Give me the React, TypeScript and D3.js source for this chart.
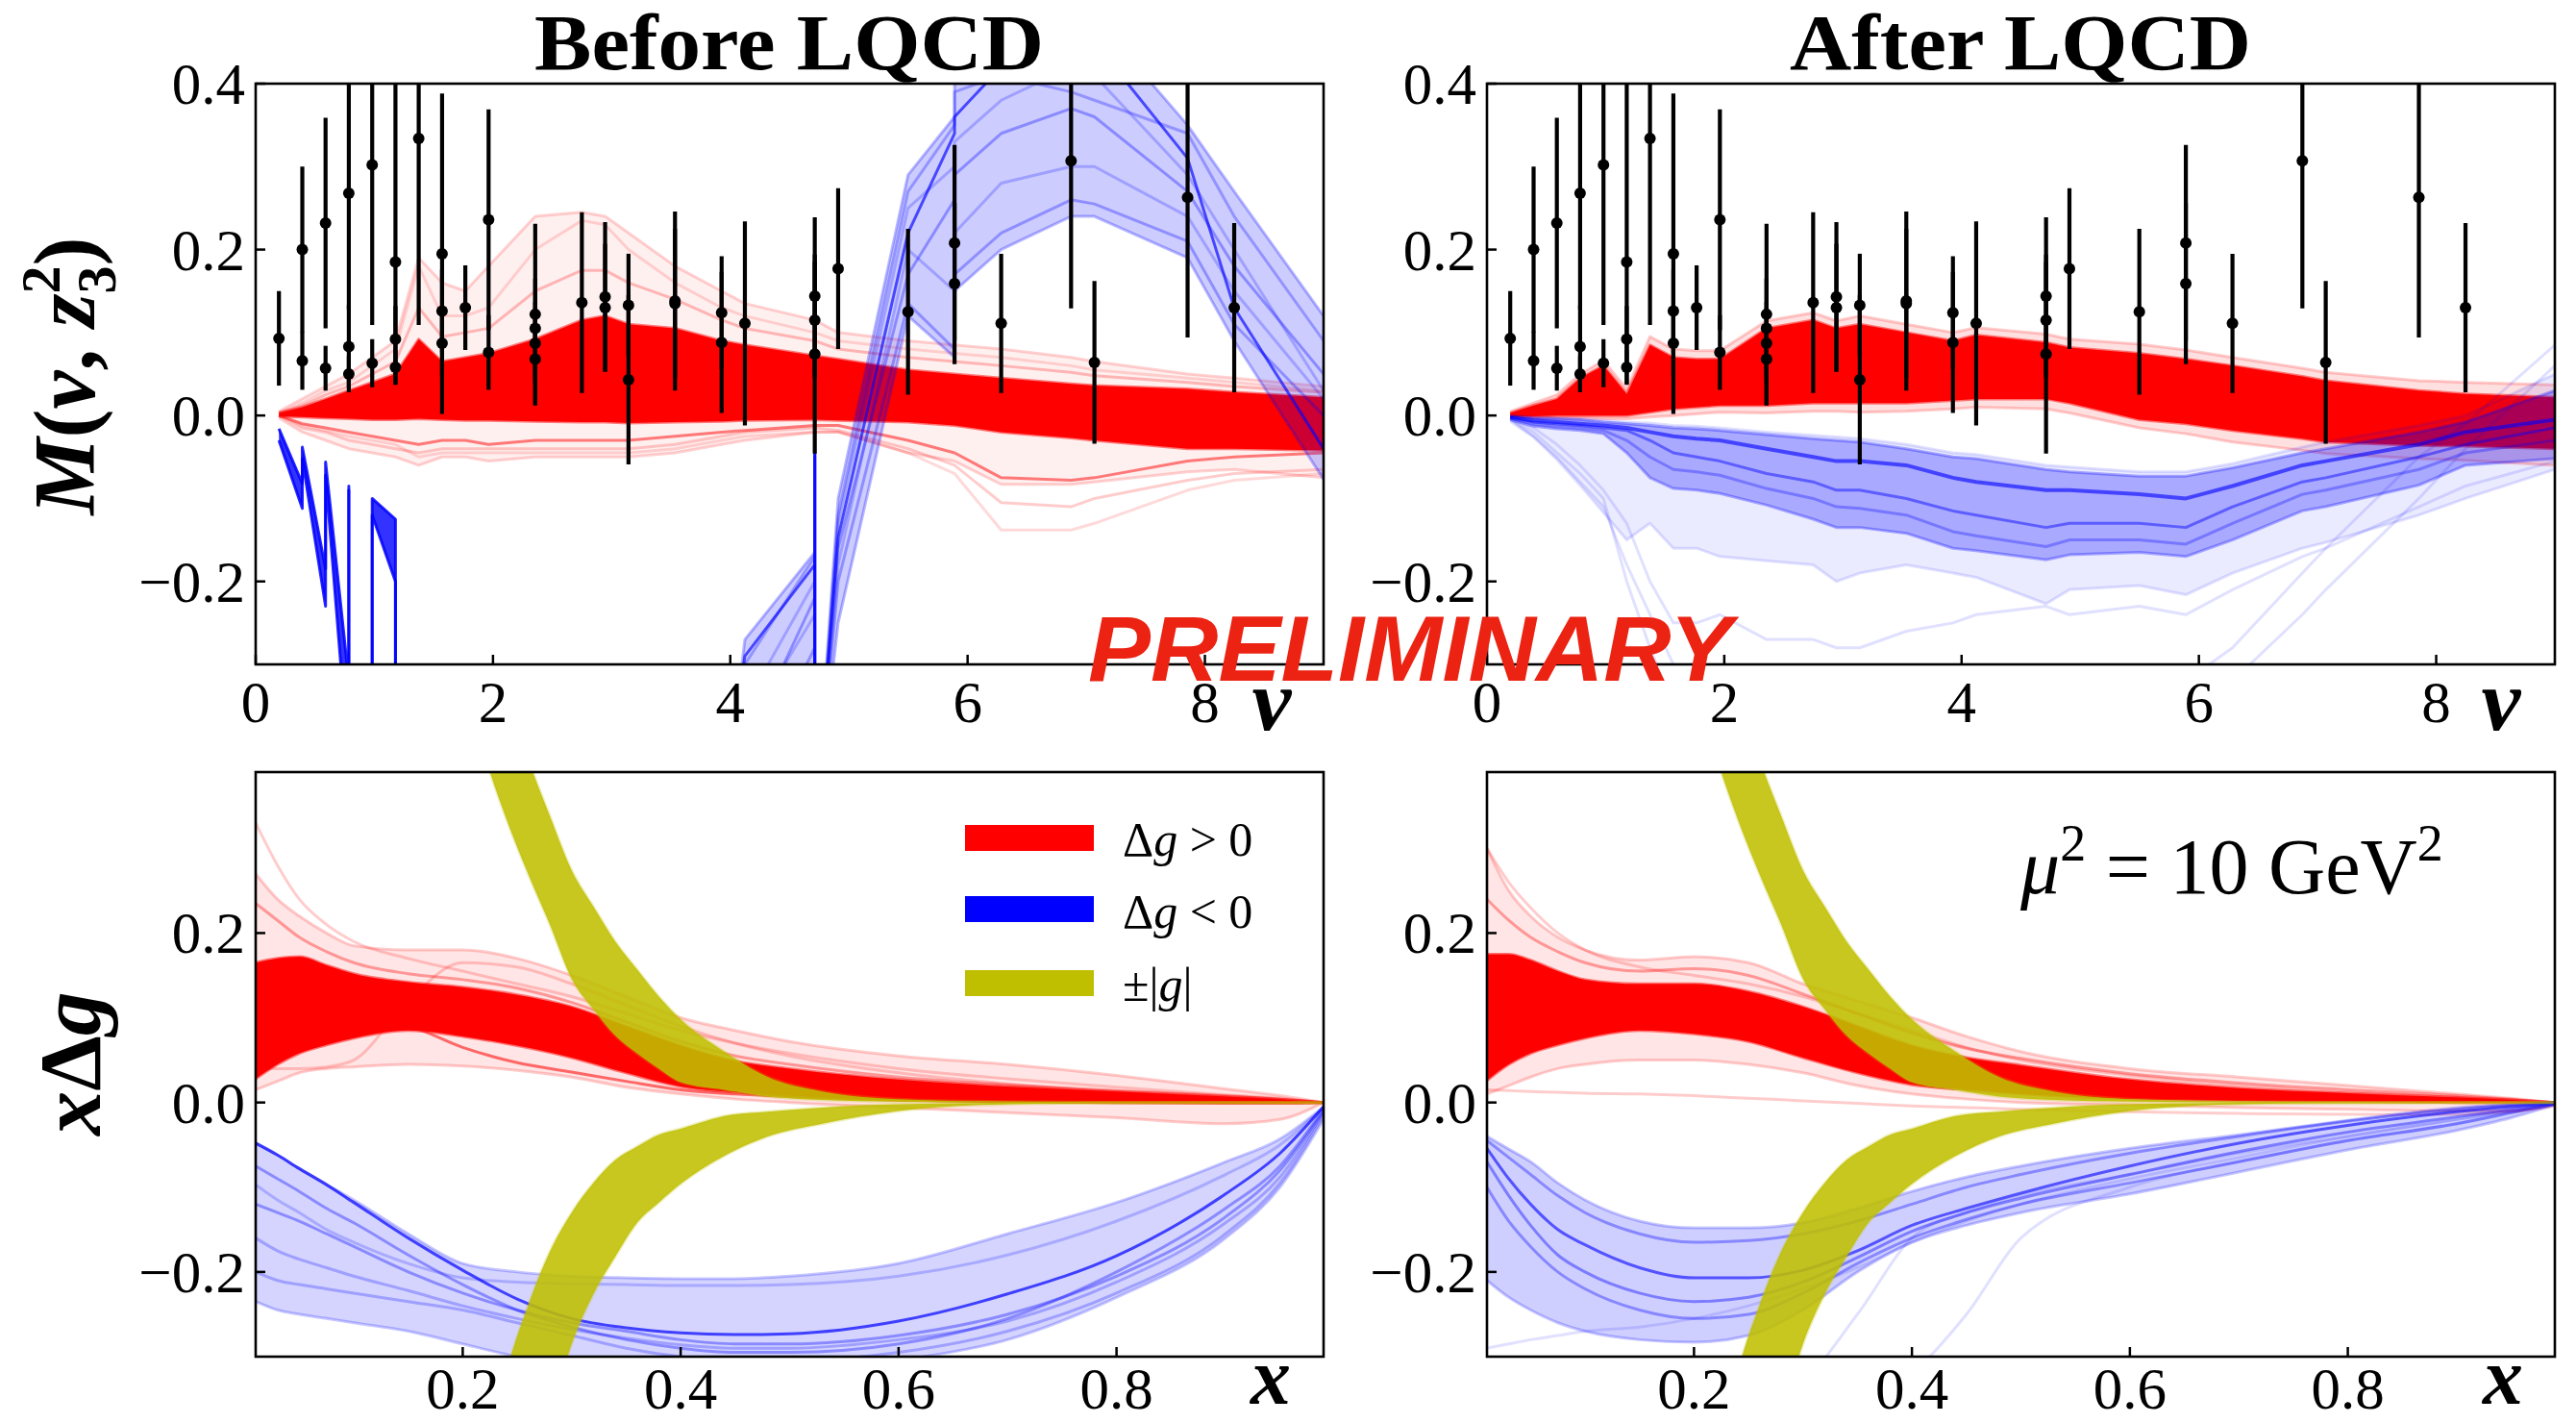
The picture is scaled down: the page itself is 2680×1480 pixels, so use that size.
import React from 'react';
import * as d3 from 'd3';

// ---------------- data: lattice points (same in both top panels) ----------------
const PT_NU = [0.196, 0.393, 0.393, 0.589, 0.589, 0.785, 0.785, 0.785, 0.982, 0.982, 1.178, 1.178, 1.178, 1.374, 1.571, 1.571, 1.571, 1.767, 1.963, 1.963, 2.356, 2.356, 2.356, 2.356, 2.749, 2.945, 2.945, 3.142, 3.142, 3.534, 3.534, 3.927, 3.927, 4.123, 4.712, 4.712, 4.712, 4.909, 5.498, 5.890, 5.890, 6.283, 6.872, 7.069, 7.854, 8.247];
const PT_M = [0.093, 0.200, 0.066, 0.232, 0.057, 0.268, 0.083, 0.050, 0.302, 0.063, 0.185, 0.092, 0.058, 0.334, 0.195, 0.126, 0.087, 0.130, 0.236, 0.076, 0.122, 0.105, 0.087, 0.068, 0.136, 0.143, 0.130, 0.133, 0.043, 0.138, 0.135, 0.124, 0.088, 0.111, 0.144, 0.115, 0.074, 0.177, 0.125, 0.208, 0.159, 0.111, 0.307, 0.064, 0.263, 0.130];
const PT_ERR_LO = [0.057, 0.100, 0.035, 0.127, 0.027, 0.140, 0.050, 0.022, 0.193, 0.029, 0.147, 0.040, 0.021, 0.225, 0.193, 0.050, 0.040, 0.051, 0.133, 0.045, 0.109, 0.060, 0.050, 0.056, 0.109, 0.090, 0.077, 0.062, 0.102, 0.108, 0.090, 0.068, 0.085, 0.123, 0.095, 0.070, 0.120, 0.097, 0.100, 0.118, 0.097, 0.084, 0.178, 0.098, 0.169, 0.102];
const PT_ERR_HI = [0.057, 0.100, 0.035, 0.127, 0.027, 0.140, 0.050, 0.022, 0.193, 0.029, 0.230, 0.040, 0.021, 0.225, 0.193, 0.050, 0.040, 0.051, 0.133, 0.045, 0.109, 0.060, 0.050, 0.056, 0.109, 0.090, 0.077, 0.062, 0.102, 0.108, 0.090, 0.068, 0.085, 0.123, 0.095, 0.070, 0.120, 0.097, 0.100, 0.118, 0.097, 0.084, 0.178, 0.098, 0.169, 0.102];

// ---------------- top panels: nu nodes ----------------
const NU = [0.196, 0.393, 0.589, 0.785, 0.982, 1.178, 1.374, 1.571, 1.767, 1.963, 2.356, 2.749, 2.945, 3.142, 3.534, 3.927, 4.123, 4.712, 4.909, 5.498, 5.890, 6.283, 6.872, 7.069, 7.854, 8.247, 9.0];

// red, before LQCD
const RB_CORE_HI = [0.003, 0.010, 0.020, 0.030, 0.040, 0.050, 0.092, 0.065, 0.070, 0.075, 0.092, 0.115, 0.120, 0.110, 0.105, 0.090, 0.085, 0.072, 0.068, 0.055, 0.050, 0.045, 0.038, 0.036, 0.032, 0.028, 0.022];
const RB_CORE_LO = [-0.001, -0.002, -0.003, -0.004, -0.005, -0.005, -0.004, -0.005, -0.006, -0.006, -0.007, -0.008, -0.008, -0.009, -0.008, -0.007, -0.006, -0.005, -0.006, -0.008, -0.012, -0.020, -0.027, -0.030, -0.040, -0.040, -0.042];
const RB_FR_HI = [0.005, 0.020, 0.035, 0.050, 0.070, 0.090, 0.190, 0.160, 0.150, 0.180, 0.240, 0.245, 0.240, 0.220, 0.180, 0.150, 0.135, 0.115, 0.100, 0.090, 0.085, 0.080, 0.070, 0.065, 0.050, 0.045, 0.035];
const RB_FR_LO = [-0.003, -0.020, -0.030, -0.040, -0.045, -0.050, -0.060, -0.050, -0.050, -0.055, -0.050, -0.050, -0.050, -0.050, -0.045, -0.035, -0.030, -0.020, -0.020, -0.045, -0.055, -0.083, -0.083, -0.080, -0.068, -0.065, -0.075];
const RB_OUT1 = [0, -0.010, -0.015, -0.020, -0.025, -0.030, -0.035, -0.030, -0.030, -0.035, -0.030, -0.030, -0.030, -0.030, -0.025, -0.020, -0.018, -0.012, -0.012, -0.030, -0.045, -0.075, -0.078, -0.075, -0.055, -0.050, -0.045];
const RB_OUT2 = [0, -0.015, -0.020, -0.030, -0.035, -0.040, -0.045, -0.040, -0.040, -0.040, -0.040, -0.040, -0.040, -0.040, -0.035, -0.025, -0.020, -0.015, -0.018, -0.040, -0.060, -0.105, -0.110, -0.100, -0.078, -0.070, -0.065];
const RB_OUT3 = [0, -0.012, -0.018, -0.025, -0.030, -0.035, -0.050, -0.045, -0.045, -0.045, -0.045, -0.045, -0.045, -0.045, -0.040, -0.030, -0.025, -0.020, -0.020, -0.045, -0.070, -0.138, -0.138, -0.130, -0.090, -0.078, -0.070];
const RB_OUT4 = [0.003, 0.015, 0.030, 0.040, 0.060, 0.080, 0.180, 0.120, 0.120, 0.130, 0.200, 0.235, 0.230, 0.200, 0.160, 0.130, 0.120, 0.100, 0.090, 0.080, 0.075, 0.070, 0.060, 0.055, 0.045, 0.040, 0.030];
const RB_OUT5 = [0.003, 0.012, 0.025, 0.035, 0.050, 0.065, 0.130, 0.095, 0.100, 0.105, 0.150, 0.175, 0.175, 0.160, 0.140, 0.115, 0.105, 0.090, 0.080, 0.070, 0.065, 0.060, 0.052, 0.048, 0.040, 0.035, 0.028];

// blue, before LQCD (nodes with repeated nu)
const BB_LEFT_NU = [0.196, 0.393, 0.393, 0.589, 0.589, 0.785, 0.785, 0.785, 0.982, 0.982, 1.178, 1.178];
const BB_LEFT_HI = [-0.016, -0.082, -0.038, -0.185, -0.056, -0.320, -0.085, -0.500, -0.500, -0.100, -0.125, -0.500];
const BB_LEFT_LO = [-0.030, -0.112, -0.052, -0.230, -0.072, -0.420, -0.090, -0.500, -0.500, -0.120, -0.200, -0.500];
const BB_RIGHT_NU = [3.927, 4.123, 4.712, 4.712, 4.712, 4.909, 5.498, 5.890, 5.890, 6.283, 6.872, 7.069, 7.854, 8.247, 9.0];
const BB_RIGHT_HI = [-0.50, -0.27, -0.165, -0.044, -0.50, -0.10, 0.29, 0.36, 0.40, 0.50, 0.50, 0.48, 0.35, 0.27, 0.12];
const BB_RIGHT_LO = [-0.50, -0.50, -0.50, -0.050, -0.50, -0.25, 0.12, 0.07, 0.15, 0.20, 0.24, 0.24, 0.19, 0.09, -0.077];
const BB_S1 = [-0.50, -0.29, -0.18, -0.045, -0.50, -0.147, 0.22, 0.34, 0.36, 0.42, 0.46, 0.45, 0.31, 0.13, -0.04];
const BB_S2 = [-0.50, -0.40, -0.22, -0.046, -0.50, -0.16, 0.17, 0.26, 0.29, 0.34, 0.37, 0.36, 0.27, 0.18, 0.05];
const BB_S3 = [-0.50, -0.45, -0.28, -0.047, -0.50, -0.20, 0.135, 0.08, 0.17, 0.22, 0.26, 0.255, 0.21, 0.11, 0.0];
const BB_S4 = [-0.50, -0.30, -0.17, -0.044, -0.50, -0.12, 0.27, 0.35, 0.39, 0.41, 0.39, 0.38, 0.34, 0.24, 0.09];
const BB_S5 = [-0.50, -0.35, -0.20, -0.045, -0.50, -0.13, 0.25, 0.30, 0.33, 0.38, 0.42, 0.41, 0.29, 0.20, 0.03];
const BB_S6 = [-0.50, -0.38, -0.24, -0.046, -0.50, -0.18, 0.20, 0.15, 0.22, 0.28, 0.30, 0.30, 0.24, 0.15, 0.02];

// red, after LQCD
const RA_CORE_HI = [0.003, 0.012, 0.020, 0.045, 0.060, 0.026, 0.085, 0.070, 0.068, 0.068, 0.105, 0.115, 0.105, 0.110, 0.100, 0.090, 0.097, 0.088, 0.082, 0.075, 0.068, 0.060, 0.047, 0.042, 0.030, 0.026, 0.022];
const RA_CORE_LO = [-0.001, -0.001, 0.0, 0.0, 0.0, 0.0, 0.004, 0.008, 0.010, 0.012, 0.012, 0.015, 0.015, 0.015, 0.015, 0.018, 0.020, 0.020, 0.015, -0.005, -0.010, -0.018, -0.028, -0.032, -0.036, -0.037, -0.040];
const RA_FR_HI = [0.005, 0.015, 0.025, 0.050, 0.066, 0.032, 0.095, 0.080, 0.078, 0.078, 0.114, 0.124, 0.114, 0.120, 0.110, 0.100, 0.106, 0.098, 0.092, 0.086, 0.079, 0.070, 0.057, 0.052, 0.042, 0.040, 0.037];
const RA_FR_LO = [-0.002, -0.003, -0.003, -0.003, -0.004, -0.004, -0.002, 0.0, 0.002, 0.004, 0.003, 0.005, 0.005, 0.004, 0.005, 0.008, 0.010, 0.008, 0.003, -0.015, -0.022, -0.032, -0.042, -0.046, -0.052, -0.054, -0.060];

// blue, after LQCD
const BA_CORE_HI = [-0.001, -0.003, -0.004, -0.005, -0.008, -0.010, -0.012, -0.015, -0.016, -0.018, -0.023, -0.028, -0.030, -0.032, -0.040, -0.050, -0.052, -0.065, -0.068, -0.073, -0.073, -0.063, -0.045, -0.040, -0.020, -0.008, 0.030];
const BA_CORE_LO = [-0.005, -0.013, -0.016, -0.018, -0.022, -0.045, -0.075, -0.088, -0.090, -0.094, -0.108, -0.125, -0.135, -0.135, -0.142, -0.160, -0.163, -0.174, -0.168, -0.165, -0.170, -0.150, -0.115, -0.110, -0.084, -0.060, -0.052];
const BA_FR_HI = [0.0, -0.002, -0.003, -0.004, -0.006, -0.008, -0.009, -0.012, -0.013, -0.015, -0.020, -0.024, -0.026, -0.028, -0.035, -0.045, -0.047, -0.060, -0.062, -0.068, -0.068, -0.058, -0.038, -0.032, -0.012, 0.0, 0.050];
const BA_FR_LO = [-0.007, -0.026, -0.053, -0.084, -0.117, -0.150, -0.130, -0.160, -0.160, -0.170, -0.175, -0.180, -0.200, -0.190, -0.180, -0.190, -0.195, -0.227, -0.210, -0.205, -0.216, -0.190, -0.160, -0.153, -0.120, -0.100, -0.065];
const BA_S1 = [-0.002, -0.008, -0.010, -0.012, -0.015, -0.018, -0.030, -0.045, -0.050, -0.055, -0.070, -0.080, -0.090, -0.090, -0.100, -0.115, -0.120, -0.135, -0.130, -0.130, -0.135, -0.110, -0.080, -0.075, -0.050, -0.035, -0.015];
const BA_S2 = [-0.002, -0.006, -0.008, -0.010, -0.012, -0.015, -0.020, -0.025, -0.028, -0.030, -0.040, -0.050, -0.055, -0.055, -0.060, -0.075, -0.080, -0.090, -0.090, -0.095, -0.100, -0.085, -0.060, -0.055, -0.035, -0.020, -0.005];
const BA_S3 = [-0.003, -0.010, -0.013, -0.015, -0.018, -0.030, -0.050, -0.065, -0.068, -0.072, -0.088, -0.100, -0.110, -0.112, -0.120, -0.140, -0.145, -0.158, -0.150, -0.150, -0.155, -0.130, -0.095, -0.090, -0.065, -0.045, -0.030];
const BA_OUT1 = [-0.003, -0.015, -0.035, -0.060, -0.090, -0.130, -0.200, -0.250, -0.250, -0.240, -0.270, -0.270, -0.280, -0.280, -0.260, -0.250, -0.240, -0.230, -0.240, -0.230, -0.240, -0.210, -0.170, -0.160, -0.110, -0.085, -0.055];
const BA_OUT2 = [-0.004, -0.020, -0.045, -0.070, -0.100, -0.200, -0.280, -0.350, -0.360, -0.380, -0.400, -0.400, -0.400, -0.400, -0.400, -0.400, -0.400, -0.400, -0.380, -0.350, -0.320, -0.280, -0.190, -0.160, -0.050, -0.010, 0.085];
const BA_OUT3 = [-0.004, -0.025, -0.050, -0.080, -0.110, -0.180, -0.240, -0.300, -0.320, -0.330, -0.350, -0.380, -0.400, -0.400, -0.400, -0.400, -0.400, -0.360, -0.340, -0.330, -0.330, -0.320, -0.240, -0.210, -0.100, -0.040, 0.060];

// ---------------- bottom panels: x nodes ----------------
const XN = [0.01, 0.03, 0.05, 0.075, 0.1, 0.15, 0.2, 0.25, 0.3, 0.35, 0.4, 0.45, 0.5, 0.6, 0.7, 0.8, 0.9, 0.95, 0.99];

const RBX_CORE_HI = [0.165, 0.170, 0.172, 0.162, 0.152, 0.142, 0.136, 0.127, 0.113, 0.090, 0.067, 0.049, 0.040, 0.027, 0.019, 0.013, 0.007, 0.004, 0.0];
const RBX_CORE_LO = [0.028, 0.045, 0.058, 0.068, 0.076, 0.085, 0.078, 0.067, 0.053, 0.035, 0.019, 0.012, 0.008, 0.003, 0.001, 0.0, -0.001, -0.001, 0.0];
const RBX_FR_HI = [0.270, 0.240, 0.220, 0.200, 0.185, 0.180, 0.180, 0.170, 0.150, 0.125, 0.100, 0.085, 0.072, 0.055, 0.045, 0.032, 0.016, 0.008, 0.0];
const RBX_FR_LO = [0.015, 0.025, 0.035, 0.040, 0.042, 0.045, 0.043, 0.038, 0.030, 0.018, 0.010, 0.004, 0.0, -0.006, -0.012, -0.018, -0.025, -0.020, 0.0];
const RBX_OUT1 = [0.330, 0.280, 0.240, 0.210, 0.190, 0.170, 0.155, 0.140, 0.125, 0.105, 0.085, 0.070, 0.058, 0.040, 0.028, 0.018, 0.009, 0.005, 0.0];
const RBX_OUT2 = [0.050, 0.065, 0.080, 0.090, 0.097, 0.090, 0.065, 0.047, 0.036, 0.025, 0.015, 0.010, 0.007, 0.003, 0.001, 0.0, 0.0, 0.0, 0.0];
const RBX_OUT3 = [0.040, 0.040, 0.040, 0.042, 0.050, 0.120, 0.165, 0.160, 0.140, 0.115, 0.090, 0.070, 0.055, 0.035, 0.022, 0.012, 0.006, 0.003, 0.0];
const RBX_OUT4 = [0.235, 0.215, 0.195, 0.178, 0.165, 0.152, 0.145, 0.135, 0.118, 0.095, 0.072, 0.055, 0.045, 0.030, 0.021, 0.014, 0.008, 0.004, 0.0];

const BBX_HI = [-0.048, -0.062, -0.078, -0.097, -0.115, -0.155, -0.190, -0.200, -0.205, -0.207, -0.208, -0.208, -0.205, -0.190, -0.155, -0.118, -0.070, -0.043, -0.005];
const BBX_LO = [-0.235, -0.245, -0.250, -0.255, -0.260, -0.270, -0.285, -0.300, -0.310, -0.320, -0.330, -0.330, -0.325, -0.305, -0.280, -0.230, -0.160, -0.100, -0.020];
const BBX_S1 = [-0.048, -0.062, -0.078, -0.097, -0.118, -0.160, -0.198, -0.232, -0.255, -0.266, -0.272, -0.274, -0.273, -0.258, -0.226, -0.181, -0.108, -0.060, -0.005];
const BBX_S2 = [-0.120, -0.130, -0.140, -0.155, -0.170, -0.200, -0.225, -0.245, -0.260, -0.270, -0.280, -0.285, -0.285, -0.275, -0.250, -0.205, -0.135, -0.080, -0.010];
const BBX_S3 = [-0.200, -0.210, -0.215, -0.220, -0.225, -0.235, -0.245, -0.260, -0.275, -0.290, -0.300, -0.305, -0.305, -0.295, -0.270, -0.225, -0.155, -0.095, -0.015];
const BBX_S4 = [-0.097, -0.115, -0.130, -0.150, -0.165, -0.190, -0.207, -0.212, -0.214, -0.215, -0.216, -0.216, -0.215, -0.205, -0.180, -0.140, -0.085, -0.050, -0.006];
const BBX_S5 = [-0.075, -0.090, -0.105, -0.125, -0.142, -0.180, -0.215, -0.245, -0.265, -0.280, -0.290, -0.295, -0.295, -0.285, -0.255, -0.200, -0.125, -0.075, -0.008];
const BBX_S6 = [-0.160, -0.175, -0.185, -0.195, -0.205, -0.222, -0.240, -0.255, -0.268, -0.278, -0.286, -0.290, -0.290, -0.280, -0.258, -0.212, -0.142, -0.088, -0.012];

const RAX_CORE_HI = [0.175, 0.175, 0.168, 0.155, 0.145, 0.140, 0.140, 0.131, 0.113, 0.090, 0.067, 0.053, 0.044, 0.027, 0.017, 0.011, 0.006, 0.003, 0.0];
const RAX_CORE_LO = [0.026, 0.045, 0.058, 0.068, 0.076, 0.085, 0.081, 0.072, 0.053, 0.035, 0.021, 0.015, 0.010, 0.004, 0.002, 0.001, 0.0, 0.0, 0.0];
const RAX_FR_HI = [0.300, 0.250, 0.220, 0.195, 0.180, 0.168, 0.172, 0.165, 0.140, 0.120, 0.100, 0.078, 0.060, 0.040, 0.030, 0.020, 0.010, 0.005, 0.0];
const RAX_FR_LO = [0.010, 0.020, 0.030, 0.040, 0.045, 0.050, 0.050, 0.045, 0.035, 0.020, 0.010, 0.004, 0.0, -0.003, -0.006, -0.008, -0.010, -0.010, -0.002];
const RAX_OUT1 = [0.015, 0.014, 0.013, 0.012, 0.011, 0.010, 0.008, 0.005, 0.002, -0.001, -0.004, -0.006, -0.008, -0.011, -0.013, -0.014, -0.014, -0.011, -0.004];
const RAX_OUT2 = [0.300, 0.260, 0.230, 0.200, 0.180, 0.160, 0.150, 0.140, 0.125, 0.105, 0.085, 0.065, 0.050, 0.032, 0.020, 0.012, 0.006, 0.003, 0.0];
const RAX_OUT3 = [0.240, 0.215, 0.195, 0.178, 0.165, 0.155, 0.158, 0.150, 0.128, 0.105, 0.082, 0.064, 0.052, 0.034, 0.023, 0.015, 0.008, 0.004, 0.0];

const BAX_HI = [-0.040, -0.055, -0.070, -0.095, -0.115, -0.140, -0.148, -0.148, -0.142, -0.125, -0.105, -0.088, -0.075, -0.054, -0.038, -0.021, -0.006, -0.002, 0.0];
const BAX_LO = [-0.210, -0.230, -0.245, -0.260, -0.270, -0.280, -0.283, -0.275, -0.245, -0.200, -0.165, -0.145, -0.130, -0.108, -0.082, -0.056, -0.033, -0.018, -0.003];
const BAX_SA = [-0.054, -0.090, -0.120, -0.150, -0.168, -0.195, -0.207, -0.207, -0.198, -0.175, -0.145, -0.125, -0.107, -0.075, -0.048, -0.027, -0.011, -0.005, -0.001];
const BAX_SB = [-0.045, -0.065, -0.085, -0.110, -0.130, -0.155, -0.165, -0.163, -0.155, -0.140, -0.120, -0.100, -0.085, -0.060, -0.040, -0.022, -0.008, -0.003, 0.0];
const BAX_SC = [-0.100, -0.140, -0.170, -0.200, -0.220, -0.245, -0.255, -0.250, -0.225, -0.190, -0.160, -0.138, -0.120, -0.095, -0.070, -0.045, -0.025, -0.012, -0.002];
const BAX_SD = [-0.070, -0.110, -0.145, -0.180, -0.200, -0.225, -0.235, -0.230, -0.212, -0.183, -0.152, -0.130, -0.113, -0.085, -0.058, -0.035, -0.017, -0.008, -0.001];
const BAX_O1 = [-0.300, -0.310, -0.320, -0.330, -0.340, -0.360, -0.370, -0.360, -0.330, -0.250, -0.160, -0.130, -0.110, -0.085, -0.060, -0.040, -0.020, -0.010, -0.002];
const BAX_O2 = [-0.360, -0.380, -0.400, -0.420, -0.440, -0.460, -0.450, -0.430, -0.400, -0.360, -0.320, -0.250, -0.160, -0.100, -0.070, -0.045, -0.025, -0.012, -0.002];
const BAX_O3 = [-0.290, -0.285, -0.280, -0.275, -0.270, -0.265, -0.255, -0.240, -0.220, -0.195, -0.165, -0.140, -0.120, -0.090, -0.065, -0.040, -0.020, -0.010, -0.002];

// +-|g| bands (same in both bottom panels)
const OLIVE_X = [0.20, 0.22, 0.24, 0.26, 0.28, 0.30, 0.32, 0.34, 0.36, 0.38, 0.40, 0.44, 0.48, 0.53, 0.60, 0.70, 0.80, 0.99];
const G_UP_LO = [0.50, 0.41, 0.335, 0.27, 0.21, 0.146, 0.11, 0.079, 0.058, 0.040, 0.024, 0.015, 0.007, 0.003, 0.001, 0.0002, 0.0, 0.0];
const G_UP_HI = [0.75, 0.60, 0.48, 0.405, 0.338, 0.274, 0.231, 0.190, 0.157, 0.125, 0.098, 0.060, 0.030, 0.013, 0.004, 0.001, 0.0002, 0.0];
const G_DN_HI = [-0.70, -0.45, -0.32, -0.24, -0.176, -0.13, -0.095, -0.068, -0.052, -0.038, -0.031, -0.016, -0.011, -0.006, -0.002, -0.0005, 0.0, 0.0];
const G_DN_LO = [-0.90, -0.70, -0.55, -0.45, -0.37, -0.285, -0.226, -0.182, -0.142, -0.118, -0.096, -0.063, -0.040, -0.025, -0.010, -0.002, -0.0005, 0.0];

const TOP_X_TICKS = [0, 2, 4, 6, 8];
const TOP_Y_TICKS = [-0.2, 0.0, 0.2, 0.4];
const BOT_X_TICKS = [0.2, 0.4, 0.6, 0.8];
const BOT_Y_TICKS = [-0.2, 0.0, 0.2];

// ---------------- layout ----------------
const W = 2680, H = 1480;
const LX = [266, 1377], RX = [1547, 2658];
const TY = [87, 691], BY = [803, 1411];
const RED = '#ff0000', BLUE = '#0000ff', OLIVE = '#bfbf00';
const SERIF = "'Liberation Serif', 'DejaVu Serif', serif";

const yTop = d3.scaleLinear().domain([-0.3, 0.4]).range([TY[1], TY[0]]);
const yBot = d3.scaleLinear().domain([-0.3, 0.39]).range([BY[1], BY[0]]);
const xNuL = d3.scaleLinear().domain([0, 9]).range(LX);
const xNuR = d3.scaleLinear().domain([0, 9]).range(RX);
const xXL = d3.scaleLinear().domain([0.01, 0.99]).range(LX);
const xXR = d3.scaleLinear().domain([0.01, 0.99]).range(RX);

const fmt1 = d3.format('.1f');
const fmt0 = d3.format('d');

function Band({ xs, ys, xv, lo, hi, color, fill, stroke, curve, sw = 3 }: any) {
  const area = d3.area<number>().x((_, i) => xs(xv[i])).y0((_, i) => ys(lo[i])).y1((_, i) => ys(hi[i])).curve(curve)(xv) as string;
  const line = d3.line<number>().x((_, i) => xs(xv[i])).y((d) => ys(d)).curve(curve);
  return (
    <g>
      <path d={area} fill={color} fillOpacity={fill} stroke="none" />
      {stroke > 0 && <path d={line(lo) as string} fill="none" stroke={color} strokeOpacity={stroke} strokeWidth={sw} strokeLinejoin="round" />}
      {stroke > 0 && <path d={line(hi) as string} fill="none" stroke={color} strokeOpacity={stroke} strokeWidth={sw} strokeLinejoin="round" />}
    </g>
  );
}

function Curve({ xs, ys, xv, v, color, op, curve, sw = 3 }: any) {
  const line = d3.line<number>().x((_, i) => xs(xv[i])).y((d) => ys(d)).curve(curve);
  return <path d={line(v) as string} fill="none" stroke={color} strokeOpacity={op} strokeWidth={sw} strokeLinejoin="round" />;
}

function Points({ xs, ys }: any) {
  return (
    <g>
      {PT_NU.map((n, i) => (
        <g key={i}>
          <line x1={xs(n)} x2={xs(n)} y1={ys(PT_M[i] - PT_ERR_LO[i])} y2={ys(PT_M[i] + PT_ERR_HI[i])} stroke="#000" strokeWidth={4.2} />
          <circle cx={xs(n)} cy={ys(PT_M[i])} r={6} fill="#000" />
        </g>
      ))}
    </g>
  );
}

function Axes({ xs, ys, xr, yr, xTicks, yTicks, xFmt, xLabY }: any) {
  return (
    <g>
      {yTicks.map((t: number) => (
        <g key={'y' + t}>
          <line x1={xr[0]} x2={xr[0] + 10} y1={ys(t)} y2={ys(t)} stroke="#000" strokeWidth={2.5} />
          <text x={xr[0] - 11} y={ys(t) + 21} textAnchor="end" fontSize={61} fontFamily={SERIF}>{fmt1(t)}</text>
        </g>
      ))}
      {xTicks.map((t: number) => (
        <g key={'x' + t}>
          <line x1={xs(t)} x2={xs(t)} y1={yr[1]} y2={yr[1] - 10} stroke="#000" strokeWidth={2.5} />
          <text x={xs(t)} y={xLabY} textAnchor="middle" fontSize={61} fontFamily={SERIF}>{xFmt(t)}</text>
        </g>
      ))}
      <rect x={xr[0]} y={yr[0]} width={xr[1] - xr[0]} height={yr[1] - yr[0]} fill="none" stroke="#000" strokeWidth={2.6} />
    </g>
  );
}

function ClipRect({ id, xr, yr }: any) {
  return (
    <clipPath id={id}>
      <rect x={xr[0]} y={yr[0]} width={xr[1] - xr[0]} height={yr[1] - yr[0]} />
    </clipPath>
  );
}

function Olive({ xs }: any) {
  const c = d3.curveMonotoneX;
  return (
    <g>
      <Band xs={xs} ys={yBot} xv={OLIVE_X} lo={G_UP_LO} hi={G_UP_HI} color={OLIVE} fill={0.88} stroke={0.25} curve={c} />
      <Band xs={xs} ys={yBot} xv={OLIVE_X} lo={G_DN_LO} hi={G_DN_HI} color={OLIVE} fill={0.88} stroke={0.25} curve={c} />
    </g>
  );
}

export default function App() {
  const lin = d3.curveLinear;
  const mono = d3.curveMonotoneX;
  return (
    <svg width={W} height={H} viewBox={`0 0 ${W} ${H}`} style={{ position: 'absolute', left: 0, top: 0, background: '#fff' }}>
      <defs>
        <ClipRect id="cTL" xr={LX} yr={TY} />
        <ClipRect id="cTR" xr={RX} yr={TY} />
        <ClipRect id="cBL" xr={LX} yr={BY} />
        <ClipRect id="cBR" xr={RX} yr={BY} />
      </defs>
      <rect x={0} y={0} width={W} height={H} fill="#fff" />

      {/* ---------- top-left: before LQCD ---------- */}
      <g clipPath="url(#cTL)">
        <Band xs={xNuL} ys={yTop} xv={NU} lo={RB_FR_LO} hi={RB_FR_HI} color={RED} fill={0.06} stroke={0.18} curve={lin} />
        <Curve xs={xNuL} ys={yTop} xv={NU} v={RB_OUT4} color={RED} op={0.15} curve={lin} />
        <Curve xs={xNuL} ys={yTop} xv={NU} v={RB_OUT5} color={RED} op={0.25} curve={lin} />
        <Curve xs={xNuL} ys={yTop} xv={NU} v={RB_OUT3} color={RED} op={0.15} curve={lin} />
        <Curve xs={xNuL} ys={yTop} xv={NU} v={RB_OUT2} color={RED} op={0.2} curve={lin} />
        <Curve xs={xNuL} ys={yTop} xv={NU} v={RB_OUT1} color={RED} op={0.5} curve={lin} />
        <Band xs={xNuL} ys={yTop} xv={NU} lo={RB_CORE_LO} hi={RB_CORE_HI} color={RED} fill={1} stroke={0.5} curve={lin} />
        <Band xs={xNuL} ys={yTop} xv={BB_LEFT_NU} lo={BB_LEFT_LO} hi={BB_LEFT_HI} color={BLUE} fill={0.8} stroke={0.85} curve={lin} />
        <Band xs={xNuL} ys={yTop} xv={BB_RIGHT_NU} lo={BB_RIGHT_LO} hi={BB_RIGHT_HI} color={BLUE} fill={0.2} stroke={0.28} curve={lin} />
        <Curve xs={xNuL} ys={yTop} xv={BB_RIGHT_NU} v={BB_S6} color={BLUE} op={0.22} curve={lin} />
        <Curve xs={xNuL} ys={yTop} xv={BB_RIGHT_NU} v={BB_S5} color={BLUE} op={0.22} curve={lin} />
        <Curve xs={xNuL} ys={yTop} xv={BB_RIGHT_NU} v={BB_S4} color={BLUE} op={0.28} curve={lin} />
        <Curve xs={xNuL} ys={yTop} xv={BB_RIGHT_NU} v={BB_S3} color={BLUE} op={0.3} curve={lin} />
        <Curve xs={xNuL} ys={yTop} xv={BB_RIGHT_NU} v={BB_S2} color={BLUE} op={0.32} curve={lin} />
        <Curve xs={xNuL} ys={yTop} xv={BB_RIGHT_NU} v={BB_S1} color={BLUE} op={0.65} curve={lin} />
        <Points xs={xNuL} ys={yTop} />
      </g>

      {/* ---------- top-right: after LQCD ---------- */}
      <g clipPath="url(#cTR)">
        <Band xs={xNuR} ys={yTop} xv={NU} lo={RA_FR_LO} hi={RA_FR_HI} color={RED} fill={0.12} stroke={0.2} curve={lin} />
        <Band xs={xNuR} ys={yTop} xv={NU} lo={RA_CORE_LO} hi={RA_CORE_HI} color={RED} fill={1} stroke={0.5} curve={lin} />
        <Band xs={xNuR} ys={yTop} xv={NU} lo={BA_FR_LO} hi={BA_FR_HI} color={BLUE} fill={0.08} stroke={0.12} curve={lin} />
        <Band xs={xNuR} ys={yTop} xv={NU} lo={BA_CORE_LO} hi={BA_CORE_HI} color={BLUE} fill={0.28} stroke={0.3} curve={lin} />
        <Curve xs={xNuR} ys={yTop} xv={NU} v={BA_OUT1} color={BLUE} op={0.12} curve={lin} />
        <Curve xs={xNuR} ys={yTop} xv={NU} v={BA_OUT2} color={BLUE} op={0.12} curve={lin} />
        <Curve xs={xNuR} ys={yTop} xv={NU} v={BA_OUT3} color={BLUE} op={0.12} curve={lin} />
        <Curve xs={xNuR} ys={yTop} xv={NU} v={BA_S3} color={BLUE} op={0.3} curve={lin} />
        <Curve xs={xNuR} ys={yTop} xv={NU} v={BA_S1} color={BLUE} op={0.45} curve={lin} />
        <Curve xs={xNuR} ys={yTop} xv={NU} v={BA_S2} color={BLUE} op={0.6} curve={lin} sw={4} />
        <Points xs={xNuR} ys={yTop} />
      </g>

      {/* ---------- bottom-left ---------- */}
      <g clipPath="url(#cBL)">
        <Band xs={xXL} ys={yBot} xv={XN} lo={RBX_FR_LO} hi={RBX_FR_HI} color={RED} fill={0.1} stroke={0.2} curve={mono} />
        <Curve xs={xXL} ys={yBot} xv={XN} v={RBX_OUT1} color={RED} op={0.2} curve={mono} />
        <Curve xs={xXL} ys={yBot} xv={XN} v={RBX_OUT3} color={RED} op={0.2} curve={mono} />
        <Curve xs={xXL} ys={yBot} xv={XN} v={RBX_OUT4} color={RED} op={0.35} curve={mono} />
        <Band xs={xXL} ys={yBot} xv={XN} lo={RBX_CORE_LO} hi={RBX_CORE_HI} color={RED} fill={1} stroke={0.5} curve={mono} />
        <Curve xs={xXL} ys={yBot} xv={XN} v={RBX_OUT2} color={RED} op={0.55} curve={mono} />
        <Band xs={xXL} ys={yBot} xv={XN} lo={BBX_LO} hi={BBX_HI} color={BLUE} fill={0.17} stroke={0.22} curve={mono} />
        <Curve xs={xXL} ys={yBot} xv={XN} v={BBX_S4} color={BLUE} op={0.2} curve={mono} />
        <Curve xs={xXL} ys={yBot} xv={XN} v={BBX_S3} color={BLUE} op={0.25} curve={mono} />
        <Curve xs={xXL} ys={yBot} xv={XN} v={BBX_S6} color={BLUE} op={0.25} curve={mono} />
        <Curve xs={xXL} ys={yBot} xv={XN} v={BBX_S2} color={BLUE} op={0.35} curve={mono} />
        <Curve xs={xXL} ys={yBot} xv={XN} v={BBX_S5} color={BLUE} op={0.35} curve={mono} />
        <Curve xs={xXL} ys={yBot} xv={XN} v={BBX_S1} color={BLUE} op={0.7} curve={mono} />
        <Olive xs={xXL} />
      </g>

      {/* ---------- bottom-right ---------- */}
      <g clipPath="url(#cBR)">
        <Band xs={xXR} ys={yBot} xv={XN} lo={RAX_FR_LO} hi={RAX_FR_HI} color={RED} fill={0.1} stroke={0.2} curve={mono} />
        <Curve xs={xXR} ys={yBot} xv={XN} v={RAX_OUT1} color={RED} op={0.2} curve={mono} />
        <Curve xs={xXR} ys={yBot} xv={XN} v={RAX_OUT2} color={RED} op={0.2} curve={mono} />
        <Curve xs={xXR} ys={yBot} xv={XN} v={RAX_OUT3} color={RED} op={0.35} curve={mono} />
        <Band xs={xXR} ys={yBot} xv={XN} lo={RAX_CORE_LO} hi={RAX_CORE_HI} color={RED} fill={1} stroke={0.5} curve={mono} />
        <Band xs={xXR} ys={yBot} xv={XN} lo={BAX_LO} hi={BAX_HI} color={BLUE} fill={0.19} stroke={0.22} curve={mono} />
        <Curve xs={xXR} ys={yBot} xv={XN} v={BAX_O1} color={BLUE} op={0.12} curve={mono} />
        <Curve xs={xXR} ys={yBot} xv={XN} v={BAX_O2} color={BLUE} op={0.12} curve={mono} />
        <Curve xs={xXR} ys={yBot} xv={XN} v={BAX_O3} color={BLUE} op={0.12} curve={mono} />
        <Curve xs={xXR} ys={yBot} xv={XN} v={BAX_SB} color={BLUE} op={0.35} curve={mono} />
        <Curve xs={xXR} ys={yBot} xv={XN} v={BAX_SC} color={BLUE} op={0.35} curve={mono} />
        <Curve xs={xXR} ys={yBot} xv={XN} v={BAX_SD} color={BLUE} op={0.4} curve={mono} />
        <Curve xs={xXR} ys={yBot} xv={XN} v={BAX_SA} color={BLUE} op={0.6} curve={mono} />
        <Olive xs={xXR} />
      </g>

      {/* ---------- axes ---------- */}
      <Axes xs={xNuL} ys={yTop} xr={LX} yr={TY} xTicks={TOP_X_TICKS} yTicks={TOP_Y_TICKS} xFmt={fmt0} xLabY={751} />
      <Axes xs={xNuR} ys={yTop} xr={RX} yr={TY} xTicks={TOP_X_TICKS} yTicks={TOP_Y_TICKS} xFmt={fmt0} xLabY={751} />
      <Axes xs={xXL} ys={yBot} xr={LX} yr={BY} xTicks={BOT_X_TICKS} yTicks={BOT_Y_TICKS} xFmt={fmt1} xLabY={1465} />
      <Axes xs={xXR} ys={yBot} xr={RX} yr={BY} xTicks={BOT_X_TICKS} yTicks={BOT_Y_TICKS} xFmt={fmt1} xLabY={1465} />

      {/* ---------- titles ---------- */}
      <text x={821} y={72} textAnchor="middle" fontSize={82} fontWeight="bold" fontFamily={SERIF} textLength={530} lengthAdjust="spacingAndGlyphs">Before LQCD</text>
      <text x={2102} y={72} textAnchor="middle" fontSize={82} fontWeight="bold" fontFamily={SERIF} textLength={480} lengthAdjust="spacingAndGlyphs">After LQCD</text>

      {/* ---------- axis labels ---------- */}
      <text x={1323} y={759} textAnchor="middle" fontSize={92} fontWeight="bold" fontStyle="italic" fontFamily={SERIF}>ν</text>
      <text x={2602} y={759} textAnchor="middle" fontSize={92} fontWeight="bold" fontStyle="italic" fontFamily={SERIF}>ν</text>
      <text x={1322} y={1460} textAnchor="middle" fontSize={84} fontWeight="bold" fontStyle="italic" fontFamily={SERIF}>x</text>
      <text x={2604} y={1460} textAnchor="middle" fontSize={84} fontWeight="bold" fontStyle="italic" fontFamily={SERIF}>x</text>

      <text transform="translate(98,391) rotate(-90)" textAnchor="middle" fontSize={90} fontWeight="bold" fontFamily={SERIF}>
        <tspan fontStyle="italic">M</tspan>
        <tspan>(</tspan>
        <tspan fontStyle="italic">ν</tspan>
        <tspan>, </tspan>
        <tspan fontStyle="italic">z</tspan>
        <tspan fontSize={58} dy={-36}>2</tspan>
        <tspan fontSize={58} dx={-29} dy={58}>3</tspan>
        <tspan dy={-22}>)</tspan>
      </text>
      <text transform="translate(104,1106) rotate(-90)" textAnchor="middle" fontSize={92} fontWeight="bold" fontFamily={SERIF}>
        <tspan fontStyle="italic">x</tspan>
        <tspan>Δ</tspan>
        <tspan fontStyle="italic">g</tspan>
      </text>

      {/* ---------- legend ---------- */}
      <rect x={1004} y={858} width={134} height={27} fill={RED} />
      <rect x={1004} y={932} width={134} height={27} fill={BLUE} />
      <rect x={1004} y={1009} width={134} height={27} fill={OLIVE} />
      <text x={1168} y={890} fontSize={50} fontFamily={SERIF}>Δ<tspan fontStyle="italic">g</tspan> &gt; 0</text>
      <text x={1168} y={965} fontSize={50} fontFamily={SERIF}>Δ<tspan fontStyle="italic">g</tspan> &lt; 0</text>
      <text x={1168} y={1041} fontSize={50} fontFamily={SERIF}>±|<tspan fontStyle="italic">g</tspan>|</text>

      <text x={2102} y={929} fontSize={82} fontFamily={SERIF}>
        <tspan fontStyle="italic">μ</tspan>
        <tspan fontSize={54} dy={-34}>2</tspan>
        <tspan dy={34}> = 10 GeV</tspan>
        <tspan fontSize={54} dy={-34}>2</tspan>
      </text>

      {/* ---------- watermark ---------- */}
      <text x={1132} y={708} fontSize={96} fontWeight="bold" fontStyle="italic" fontFamily="'Liberation Sans', Arial, sans-serif" fill="#ec2212" textLength={670} lengthAdjust="spacingAndGlyphs">PRELIMINARY</text>
    </svg>
  );
}
